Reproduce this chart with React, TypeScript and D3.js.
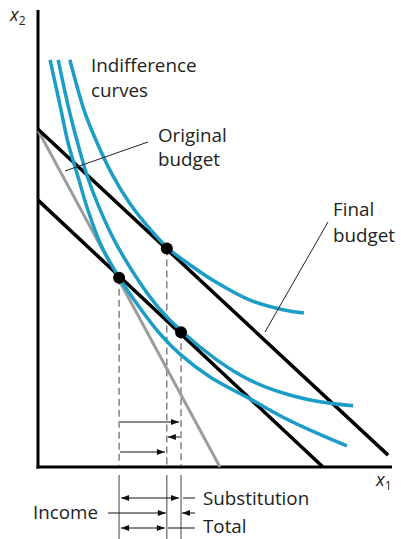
import React from "react";
import * as d3 from "d3";

const W = 401;
const H = 539;

// Indifference curves (x1, x2) in data units (0..100 on each axis)
const icLow: [number, number][] = [
  [3.4, 89.1], [6.5, 78.1], [8.5, 70.9], [11.3, 63.5], [14.1, 56.2], [17.8, 48.6],
  [22.9, 41.5], [28.8, 34.8], [34.5, 29.1], [40.1, 24.7], [48.6, 19.7], [59.9, 14.9],
  [69.2, 10.9], [78.8, 7.4], [87.3, 4.6],
];
const icMid: [number, number][] = [
  [5.7, 89.1], [8.8, 78.1], [11.2, 70.9], [13.8, 63.9], [17.0, 57.3], [21.5, 49.7],
  [28.8, 40.3], [33.9, 35.0], [40.4, 29.8], [50.6, 23.4], [59.9, 19.0], [69.2, 16.2],
  [78.8, 14.4], [89.0, 13.4],
];
const icHigh: [number, number][] = [
  [9.0, 89.1], [13.0, 78.1], [16.1, 72.0], [20.9, 64.1], [26.0, 57.6], [31.6, 52.1],
  [36.4, 48.1], [41.0, 45.3], [50.6, 40.3], [59.9, 36.5], [69.2, 34.4], [75.1, 33.7],
];

// Budget lines: endpoints (x1, x2)
const originalBudget: [number, number][] = [[0, 73.7], [51.4, 0]];
const finalBudget: [number, number][] = [[0, 73.9], [98.9, 2.6]];
const compensatedBudget: [number, number][] = [[0, 58.4], [80.5, 0]];

// Optimal bundles
const pointA = { x: 22.9, y: 41.4 };
const pointB = { x: 36.4, y: 47.8 };
const pointC = { x: 40.4, y: 29.5 };

const effectLabels = ["Substitution", "Income", "Total"];

export default function App() {
  const x = d3.scaleLinear().domain([0, 100]).range([38, 392]);
  const y = d3.scaleLinear().domain([0, 100]).range([467, 10]);

  const curve = d3
    .line<[number, number]>()
    .x((d) => x(d[0]))
    .y((d) => y(d[1]))
    .curve(d3.curveCatmullRom.alpha(0.5));
  const straight = d3
    .line<[number, number]>()
    .x((d) => x(d[0]))
    .y((d) => y(d[1]));

  const blue = "#1b9dc7";
  const font = "'Open Sans', 'Noto Sans', sans-serif";
  const fs = 18.8;

  const xA = x(pointA.x);
  const xB = x(pointB.x);
  const xC = x(pointC.x);

  const head = (tx: number, ty: number, dir: number) => {
    const l = 8, h = 3;
    return `M${tx},${ty}L${tx - dir * l},${ty - h}L${tx - dir * l},${ty + h}Z`;
  };

  const arrow = (x0: number, x1: number, yy: number, key: string, both = false) => {
    const dir = x1 > x0 ? 1 : -1;
    return (
      <g key={key}>
        <line x1={x0} y1={yy} x2={x1} y2={yy} stroke="#111" strokeWidth={1} />
        <path d={head(x1, yy, dir)} fill="#111" />
        {both && <path d={head(x0, yy, -dir)} fill="#111" />}
      </g>
    );
  };

  const axisY = y(0);
  const baseBottom = 475;

  return (
    <svg width={W} height={H} style={{ position: "absolute", left: 0, top: 0, background: "#fff" }}>
      {/* Axes */}
      <line x1={x(0)} y1={y(100)} x2={x(0)} y2={axisY + 1.5} stroke="#000" strokeWidth={3} />
      <line x1={x(0) - 1.5} y1={axisY} x2={x(100)} y2={axisY} stroke="#000" strokeWidth={3} />
      <text x={10} y={21} fontFamily={font} fontStyle="italic" fontSize={18} fill="#222">
        x<tspan fontStyle="normal" fontSize={12} dy={4}>2</tspan>
      </text>
      <text x={376} y={486} fontFamily={font} fontStyle="italic" fontSize={18} fill="#222">
        x<tspan fontStyle="normal" fontSize={12} dy={4}>1</tspan>
      </text>

      {/* Dashed drop lines */}
      {[pointA, pointB, pointC].map((p, i) => (
        <line
          key={"d" + i}
          x1={x(p.x)}
          y1={y(p.y)}
          x2={x(p.x)}
          y2={axisY - 1}
          stroke="#444"
          strokeWidth={1}
          strokeDasharray="7,4"
        />
      ))}

      {/* Budget lines */}
      <path d={straight(originalBudget) ?? ""} stroke="#9a9c9e" strokeWidth={3} fill="none" />
      <path d={straight(compensatedBudget) ?? ""} stroke="#000" strokeWidth={3.5} fill="none" />
      <path d={straight(finalBudget) ?? ""} stroke="#000" strokeWidth={3.5} fill="none" />

      {/* Indifference curves */}
      {[icLow, icMid, icHigh].map((c, i) => (
        <path key={"ic" + i} d={curve(c) ?? ""} stroke={blue} strokeWidth={3.5} fill="none" />
      ))}

      {/* Optimum points */}
      {[pointA, pointB, pointC].map((p, i) => (
        <circle key={"p" + i} cx={x(p.x)} cy={y(p.y)} r={6} fill="#000" />
      ))}

      {/* Leader lines */}
      <line x1={148} y1={142} x2={65} y2={171} stroke="#222" strokeWidth={1} />
      <line x1={328} y1={222} x2={265} y2={332} stroke="#222" strokeWidth={1} />

      {/* Labels */}
      <text fontFamily={font} fontSize={fs} fill="#222">
        <tspan x={91} y={72}>Indifference</tspan>
        <tspan x={91} y={97}>curves</tspan>
      </text>
      <text fontFamily={font} fontSize={fs} fill="#222">
        <tspan x={158} y={142}>Original</tspan>
        <tspan x={158} y={166}>budget</tspan>
      </text>
      <text fontFamily={font} fontSize={fs} fill="#222">
        <tspan x={333} y={216}>Final</tspan>
        <tspan x={333} y={242}>budget</tspan>
      </text>

      {/* Effect arrows inside plot */}
      {arrow(xA + 1, xC - 2, 422, "s1")}
      {arrow(xC - 1, xB + 1, 437, "i1")}
      {arrow(xA + 1, xB - 2, 452, "t1")}

      {/* Solid verticals below axis */}
      {[xA, xB, xC].map((xx, i) => (
        <line key={"v" + i} x1={xx} y1={baseBottom} x2={xx} y2={H} stroke="#444" strokeWidth={1} />
      ))}

      {/* Substitution row */}
      {arrow(xA + 2, xC - 2, 498, "s2", true)}
      <line x1={xC + 2} y1={498} x2={195} y2={498} stroke="#111" strokeWidth={1} />
      <text x={203} y={505} fontFamily={font} fontSize={fs} fill="#222">{effectLabels[0]}</text>

      {/* Income row */}
      <text x={33} y={519} fontFamily={font} fontSize={fs} fill="#222">{effectLabels[1]}</text>
      {arrow(108, xB - 1, 513, "i2")}
      {arrow(195, xC + 1, 513, "i3")}

      {/* Total row */}
      {arrow(xA + 2, xB - 2, 528, "t2", true)}
      <line x1={xB + 1} y1={528} x2={195} y2={528} stroke="#111" strokeWidth={1} />
      <text x={203} y={533} fontFamily={font} fontSize={fs} fill="#222">{effectLabels[2]}</text>
    </svg>
  );
}
